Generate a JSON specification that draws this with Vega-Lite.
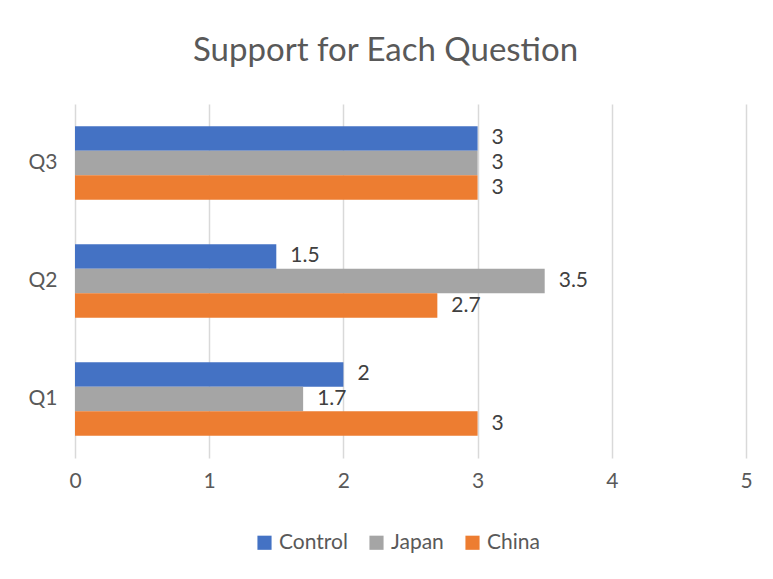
{
  "$schema": "https://vega.github.io/schema/vega-lite/v6.json",
  "autosize": "none",
  "width": 671,
  "height": 354,
  "padding": {"left": 75, "top": 104, "right": 27, "bottom": 121},
  "background": "white",
  "title": {
    "text": "Support for Each Question",
    "font": "Lato",
    "fontSize": 33,
    "fontWeight": "normal",
    "color": "#595959",
    "anchor": "middle",
    "frame": "group",
    "dx": -25,
    "offset": 36
  },
  "data": {
    "values": [
      {"q": "Q1", "group": "Control", "value": 2},
      {"q": "Q1", "group": "Japan", "value": 1.7},
      {"q": "Q1", "group": "China", "value": 3},
      {"q": "Q2", "group": "Control", "value": 1.5},
      {"q": "Q2", "group": "Japan", "value": 3.5},
      {"q": "Q2", "group": "China", "value": 2.7},
      {"q": "Q3", "group": "Control", "value": 3},
      {"q": "Q3", "group": "Japan", "value": 3},
      {"q": "Q3", "group": "China", "value": 3}
    ]
  },
  "encoding": {
    "y": {
      "field": "q",
      "type": "nominal",
      "sort": ["Q3", "Q2", "Q1"],
      "scale": {"paddingInner": 0.377, "paddingOuter": 0.1885},
      "axis": {
        "title": null,
        "domain": false,
        "ticks": false,
        "labelFont": "Lato",
        "labelFontSize": 21,
        "labelColor": "#595959",
        "labelPadding": 18
      }
    },
    "yOffset": {
      "field": "group",
      "type": "nominal",
      "sort": ["Control", "Japan", "China"],
      "scale": {"paddingInner": 0, "paddingOuter": 0}
    },
    "x": {
      "field": "value",
      "type": "quantitative",
      "scale": {"domain": [0, 5], "nice": false},
      "axis": {
        "title": null,
        "domain": false,
        "ticks": false,
        "values": [0, 1, 2, 3, 4, 5],
        "grid": true,
        "gridColor": "#d9d9d9",
        "gridWidth": 1.5,
        "labelFont": "Lato",
        "labelFontSize": 21,
        "labelColor": "#595959",
        "labelPadding": 12,
        "labelFlush": false,
        "labelOverlap": false
      }
    }
  },
  "layer": [
    {
      "mark": {"type": "bar"},
      "encoding": {
        "color": {
          "field": "group",
          "type": "nominal",
          "sort": ["Control", "Japan", "China"],
          "scale": {
            "domain": ["Control", "Japan", "China"],
            "range": ["#4472C4", "#A5A5A5", "#ED7D31"]
          },
          "legend": {
            "title": null,
            "orient": "none",
            "direction": "horizontal",
            "legendX": 179,
            "legendY": 428,
            "symbolType": "square",
            "symbolSize": 200,
            "symbolStrokeWidth": 0,
            "symbolOpacity": 1,
            "labelFont": "Lato",
            "labelFontSize": 21,
            "labelColor": "#595959",
            "labelOffset": 4,
            "columnPadding": 18
          }
        }
      }
    },
    {
      "mark": {
        "type": "text",
        "align": "left",
        "baseline": "middle",
        "dx": 14,
        "font": "Lato",
        "fontSize": 21,
        "color": "#404040"
      },
      "encoding": {
        "text": {"field": "value", "type": "quantitative"}
      }
    }
  ],
  "config": {
    "view": {"stroke": null}
  }
}
